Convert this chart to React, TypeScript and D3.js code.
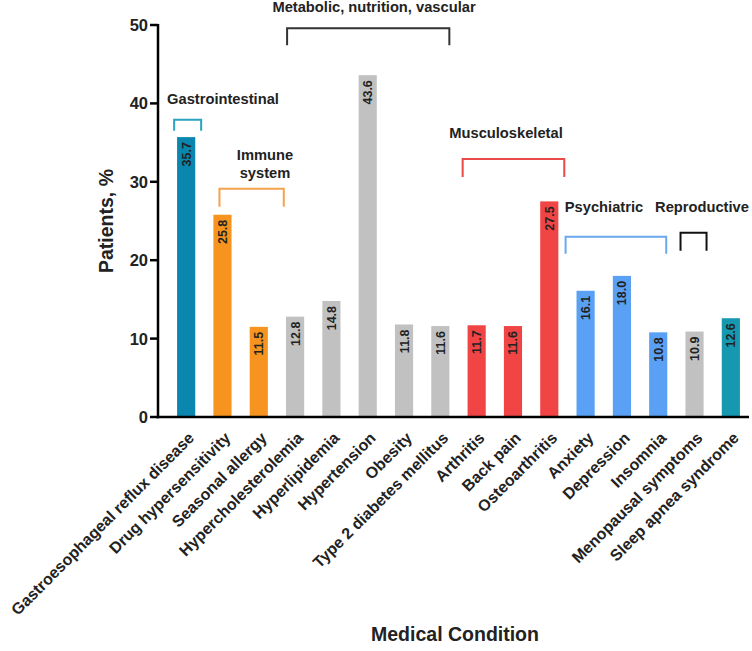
import React from "react";
import * as d3 from "d3";

const categories = [
  "Gastroesophageal reflux disease",
  "Drug hypersensitivity",
  "Seasonal allergy",
  "Hypercholesterolemia",
  "Hyperlipidemia",
  "Hypertension",
  "Obesity",
  "Type 2 diabetes mellitus",
  "Arthritis",
  "Back pain",
  "Osteoarthritis",
  "Anxiety",
  "Depression",
  "Insomnia",
  "Menopausal symptoms",
  "Sleep apnea syndrome",
];
const values = [35.7, 25.8, 11.5, 12.8, 14.8, 43.6, 11.8, 11.6, 11.7, 11.6, 27.5, 16.1, 18.0, 10.8, 10.9, 12.6];
const groupOf = ["gi", "imm", "imm", "met", "met", "met", "met", "met", "mus", "mus", "mus", "psy", "psy", "psy", "rep", "sleep"];
const yTicks = [0, 10, 20, 30, 40, 50];

// group brackets: first/last category, bracket level (data units), label lines
const groupNames = ["gi", "imm", "met", "mus", "psy", "rep"];
const groupFirst = [0, 1, 3, 8, 11, 14];
const groupLast = [0, 2, 7, 10, 13, 14];
const groupLevel = [37.9, 29.1, 49.6, 32.9, 23.0, 23.5];
const groupLabels = [["Gastrointestinal"], ["Immune", "system"], ["Metabolic, nutrition, vascular"], ["Musculoskeletal"], ["Psychiatric"], ["Reproductive"]];

const barColor: Record<string, string> = {
  gi: "#0b86ae",
  imm: "#f7941f",
  met: "#c1c1c1",
  mus: "#f14444",
  psy: "#5aa1f5",
  rep: "#c1c1c1",
  sleep: "#1598b0",
};
const bracketColor: Record<string, string> = {
  gi: "#2aa2c0",
  imm: "#f6a24c",
  met: "#333333",
  mus: "#e84a4a",
  psy: "#6aa8ef",
  rep: "#111111",
};
// layout tweaks for bracket ends (px, relative to first/last bar centre)
const bracketPadL = [12, 3, 8, 14, 20, 14];
const bracketPadR = [15, 25, 9, 15, 8, 12];
const bracketLeg = [11, 18, 17, 18, 17, 18];
const labelX = [223, 265, 374, 506, 604, 702];
const labelY = [104, 160, 12, 138, 212, 212];

const FONT = "'Liberation Sans', Arial, Helvetica, sans-serif";

export default function App() {
  const W = 752;
  const H = 651;
  const axisX = 158;
  const x = d3.scaleBand<string>().domain(categories).range([168, 749]).paddingInner(0.5).paddingOuter(0.25);
  const y = d3.scaleLinear().domain([0, 50]).range([417, 25]);
  const bw = x.bandwidth();
  const cx = (i: number) => (x(categories[i]) as number) + bw / 2;

  return (
    <svg width={W} height={H} style={{ position: "absolute", left: 0, top: 0 }} fontFamily={FONT}>
      <rect width={W} height={H} fill="#fff" />
      {/* bars */}
      {categories.map((c, i) => (
        <rect key={c} x={x(c)} y={y(values[i])} width={bw} height={y(0) - y(values[i])} fill={barColor[groupOf[i]]} />
      ))}
      {/* value labels */}
      {categories.map((c, i) => (
        <text
          key={"v" + c}
          transform={`translate(${cx(i) + 4.5},${y(values[i]) + 5}) rotate(-90)`}
          textAnchor="end"
          fontSize={12.5}
          fontWeight="bold"
          fill="#222"
        >
          {values[i].toFixed(1)}
        </text>
      ))}
      {/* axes */}
      <line x1={axisX} x2={axisX} y1={y(50) - 1} y2={y(0) + 1.25} stroke="#000" strokeWidth={2.5} />
      <line x1={axisX - 1.25} x2={749} y1={y(0)} y2={y(0)} stroke="#000" strokeWidth={2.5} />
      {yTicks.map((t) => (
        <g key={t}>
          <line x1={axisX - 8} x2={axisX} y1={y(t)} y2={y(t)} stroke="#000" strokeWidth={2.5} />
          <text x={axisX - 10} y={y(t)} dy="0.36em" textAnchor="end" fontSize={16.5} fontWeight="bold" fill="#222">
            {t}
          </text>
        </g>
      ))}
      {/* x tick labels */}
      {categories.map((c, i) => (
        <text
          key={"x" + c}
          transform={`translate(${cx(i) + 9},${y(0) + 22}) rotate(-45)`}
          textAnchor="end"
          fontSize={16}
          fontWeight="bold"
          fill="#222"
        >
          {c}
        </text>
      ))}
      {/* axis titles */}
      <text transform={`translate(113,${(y(0) + y(50)) / 2}) rotate(-90)`} textAnchor="middle" fontSize={19.5} fontWeight="bold" fill="#222">
        Patients, %
      </text>
      <text x={455} y={641} textAnchor="middle" fontSize={19.5} fontWeight="bold" fill="#222">
        Medical Condition
      </text>
      {/* group brackets */}
      {groupNames.map((g, k) => {
        const x1 = cx(groupFirst[k]) - bracketPadL[k];
        const x2 = cx(groupLast[k]) + bracketPadR[k];
        const yt = y(groupLevel[k]);
        const yb = yt + bracketLeg[k];
        return (
          <g key={g}>
            <path d={`M${x1},${yb}V${yt}H${x2}V${yb}`} fill="none" stroke={bracketColor[g]} strokeWidth={2} />
            {groupLabels[k].map((l, j) => (
              <text key={l} x={labelX[k]} y={labelY[k] + j * 18} textAnchor="middle" fontSize={14.7} fontWeight="bold" fill="#222">
                {l}
              </text>
            ))}
          </g>
        );
      })}
    </svg>
  );
}
